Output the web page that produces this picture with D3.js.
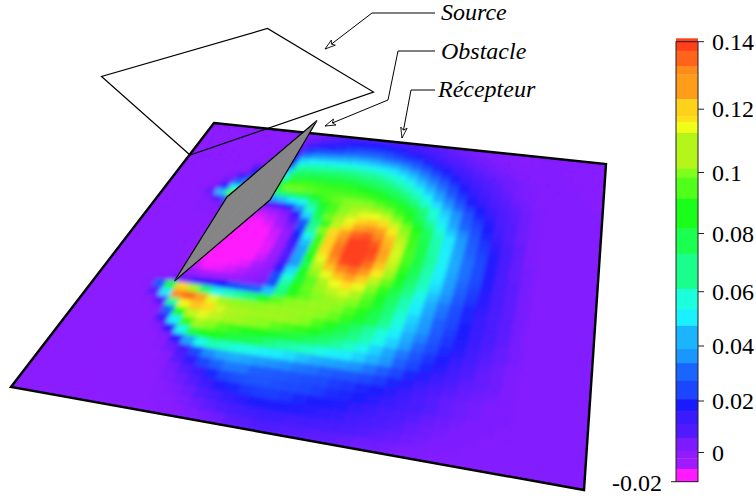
<!DOCTYPE html>
<html>
<head>
<meta charset="utf-8">
<script src="https://d3js.org/d3.v7.min.js"></script>
<style>
body { margin: 0; background: #fff; }
svg { display: block; }
text { font-family: "Liberation Serif", serif; fill: #000; }
</style>
</head>
<body>
<div id="chartContainer"></div>
<script>
var WIDTH = 756;
var HEIGHT = 499;

// colour bar: tick values and their labels
var tickValues = [0.14, 0.12, 0.1, 0.08, 0.06, 0.04, 0.02, 0, -0.02];
var tickLabels = ["0.14", "0.12", "0.1", "0.08", "0.06", "0.04", "0.02", "0", "-0.02"];

// colour bands of the bar, top to bottom
var bandEdges = [0.141, 0.1373, 0.1328, 0.1304, 0.123, 0.1178, 0.116, 0.1125, 0.1012, 0.0983, 0.0914, 0.0816,
  0.073, 0.0609, 0.0536, 0.0474, 0.0389, 0.0338, 0.0273, 0.0207, 0.0161, 0.0111, 0.0057, 0.0007, -0.004, -0.0112, -0.02];
var bandColors = ["#ff401a", "#ff641a", "#ff8c1a", "#ff9c1a", "#ffd21a", "#ffe01a", "#f0ff1a", "#b4f51a", "#80ff1a",
  "#50ff1a", "#1aff1a", "#1aff50", "#1aff8c", "#1affdc", "#1af0ff", "#1ab4ff", "#1a96ff", "#1a64ff", "#1a46ff",
  "#1a1aff", "#3c1aff", "#501aff", "#7e1aff", "#921aff", "#a01aff", "#ff1aff"];

// field on the receiving plane, in thousandths (row = far edge to near edge)
var fieldRows = [
[0,0,0,0,0,0,0,0,0,1, 3,4,6,8,10,12,13,14,14,13, 12,11,10,8,7,6,5,4,3,2, 2,1,1,1,2,2,1,1,1,1],
[0,0,0,0,0,0,0,0,0,1, 4,6,9,12,15,17,19,19,19,18, 16,14,13,11,9,7,6,5,4,3, 2,2,1,1,2,2,2,1,1,1],
[0,0,0,0,0,0,0,0,0,1, 5,12,16,19,21,23,25,25,25,24, 22,20,17,15,12,9,8,6,5,4, 3,2,2,2,2,2,1,1,1,1],
[0,0,0,0,0,0,0,0,1,3, 8,22,26,28,30,32,33,33,33,31, 29,26,24,20,16,13,10,8,6,5, 4,3,2,2,2,2,2,1,1,1],
[0,0,0,0,0,0,0,0,1,4, 12,33,37,40,42,44,45,45,44,42, 39,35,31,26,21,17,13,10,8,6, 5,4,3,2,2,2,2,1,1,1],
[0,0,0,0,0,0,0,0,1,5, 20,48,52,53,54,55,56,55,54,52, 49,45,39,33,27,22,17,13,10,8, 6,5,4,3,2,2,2,2,1,1],
[0,0,0,0,0,0,0,1,3,8, 30,60,63,64,65,66,66,65,64,62, 58,54,47,40,33,27,21,16,12,9, 7,5,4,3,2,2,2,2,1,1],
[0,0,0,0,0,0,0,8,4,10, 45,70,73,74,75,75,74,73,71,69, 65,60,55,47,39,32,25,19,14,11, 8,6,4,3,2,2,2,2,2,1],
[0,0,0,0,0,0,1,18,5,12, 55,78,81,82,82,82,82,81,79,76, 73,68,62,55,46,37,29,22,16,13, 9,7,5,4,2,2,2,2,2,1],
[0,0,0,0,0,2,12,25,6,14, 72,90,92,92,91,90,90,89,87,85, 81,76,70,62,53,43,34,26,19,15, 11,8,6,4,3,2,2,2,2,2],
[0,0,0,0,1,5,30,40,8,18, 85,98,98,96,94,94,94,94,93,91, 88,83,78,69,59,49,39,31,23,18, 13,9,7,5,3,2,2,2,2,2],
[0,0,0,0,2,15,55,60,60,60, 70,75,78,78,85,93,97,100,100,99, 96,92,88,80,70,58,46,36,27,20, 15,10,7,5,3,2,2,2,2,2],
[0,0,0,1,6,45,95,80,60,40, 40,45,50,55,70,85,94,100,104,106, 104,100,92,85,74,59,49,38,29,23, 17,11,8,5,3,2,2,2,2,2],
[0,0,0,0,2,8,30,10,8,5, 8,10,20,38,60,80,94,102,108,113, 114,110,100,90,79,66,52,41,31,25, 18,12,8,5,3,2,2,2,2,2],
[0,0,0,0,1,2,5,0,-5,-8, -8,-5,3,15,48,78,98,107,113,120, 122,118,110,99,86,73,58,46,35,27, 20,13,8,5,3,2,2,2,2,2],
[0,0,0,0,1,1,1,0,-9,-13, -13,-10,-5,8,30,68,90,108,117,126, 130,126,116,103,90,76,62,50,38,29, 22,15,9,6,3,2,2,2,2,2],
[0,0,0,0,0,0,0,-3,-12,-15, -16,-13,-8,3,25,65,100,118,126,135, 137,132,122,108,92,78,63,50,39,30, 23,16,10,6,3,2,2,2,2,2],
[0,0,0,0,0,0,0,-7,-15,-17, -18,-16,-11,-3,20,55,93,120,130,139, 142,136,124,110,93,79,64,51,40,31, 24,17,10,6,3,2,2,2,2,2],
[0,0,0,0,0,0,-1,-11,-18,-19, -19,-17,-12,-4,14,45,92,120,133,142, 145,138,126,111,94,79,65,52,41,32, 25,17,10,6,4,2,2,2,2,2],
[0,0,0,0,0,0,-1,-14,-19,-20, -19,-17,-13,-5,10,40,90,118,133,142, 145,137,125,110,93,79,65,52,41,32, 25,17,10,6,4,2,2,2,2,2],
[0,0,0,0,0,0,-2,-15,-19,-20, -19,-17,-13,-4,8,40,85,113,128,138, 141,134,122,108,90,77,63,51,40,32, 25,17,10,7,4,2,2,2,2,2],
[0,0,0,0,0,0,-2,-16,-19,-19, -18,-16,-11,-3,10,38,78,108,122,132, 134,128,116,104,87,74,62,50,39,31, 24,17,10,7,4,2,2,2,2,2],
[0,0,0,0,0,0,-2,-15,-18,-18, -15,-13,-8,-2,15,48,85,102,113,122, 126,121,108,97,83,71,60,48,38,30, 23,16,10,7,4,2,2,2,2,2],
[0,0,0,0,0,0,-1,-11,-15,-14, -12,-9,-5,0,25,58,82,96,106,114, 117,113,101,90,79,67,56,45,36,28, 22,16,10,7,4,2,2,2,2,2],
[0,0,0,0,0,0,0,-4,-8,-8, -6,-4,-1,3,25,65,88,97,103,108, 111,106,96,85,74,63,52,42,33,26, 20,15,10,7,4,2,2,2,2,2],
[0,0,0,0,0,1,3,5,10,14, 18,25,28,30,45,70,88,96,100,103, 104,100,93,83,72,61,50,40,32,25, 20,14,10,7,4,2,2,2,2,2],
[0,0,0,0,1,28,80,120,105,72, 55,60,65,72,84,96,100,102,103,103, 100,95,88,79,69,58,47,38,30,24, 19,14,10,7,4,2,2,2,2,2],
[0,0,0,0,0,7,50,130,134,126, 112,104,102,102,102,103,103,103,103,101, 97,90,83,76,66,55,45,37,29,23, 18,14,10,7,4,2,2,2,2,2],
[0,0,0,0,0,1,8,65,115,122, 118,110,106,105,104,104,104,103,100,94, 88,80,73,65,58,50,42,34,27,22, 17,13,9,6,4,2,2,2,2,2],
[0,0,0,0,0,0,1,30,85,108, 112,108,105,104,102,100,96,93,90,85, 79,74,68,62,55,47,39,31,25,20, 16,12,8,6,4,2,2,2,2,2],
[0,0,0,0,0,0,0,12,52,90, 104,100,95,91,88,86,83,80,78,74, 70,65,60,54,47,40,33,27,22,18, 14,10,7,5,3,2,2,2,2,2],
[0,0,0,0,0,0,0,2,15,55, 80,85,85,80,78,75,70,65,63,60, 56,52,50,47,43,37,30,24,20,16, 12,9,6,5,3,2,2,2,2,2],
[0,0,0,0,0,0,0,0,2,15, 40,55,62,60,57,55,52,50,48,45, 42,40,38,36,33,29,24,20,16,13, 10,7,6,5,3,2,2,2,2,2],
[0,0,0,0,0,0,0,0,1,5, 12,25,35,40,42,40,38,36,35,33, 32,30,28,27,25,23,20,16,13,10, 8,6,5,4,3,2,2,2,2,2],
[0,0,0,0,0,0,0,0,0,1, 8,15,24,30,33,33,30,29,28,27, 26,25,23,22,20,18,16,13,10,8, 6,5,4,3,3,2,2,2,2,2],
[0,0,0,0,0,0,0,0,0,1, 4,8,13,20,24,26,27,27,26,25, 24,23,21,20,18,16,14,12,10,8, 6,5,4,3,3,2,2,2,2,2],
[0,0,0,0,0,0,0,0,0,0, 3,5,8,13,17,20,22,23,23,22, 20,19,18,17,15,13,11,9,8,6, 5,4,3,3,2,2,2,2,2,2],
[0,0,0,0,0,0,0,0,0,0, 1,3,5,8,11,14,16,18,19,18, 17,16,15,14,12,10,9,8,6,5, 4,3,3,2,2,2,2,2,2,2],
[0,0,0,0,0,0,0,0,0,0, 1,1,3,5,7,9,11,12,13,13, 12,12,11,10,9,8,7,6,5,4, 3,3,2,2,2,2,2,2,2,2],
[0,0,0,0,0,0,0,0,0,0, 0,1,1,3,4,5,7,8,9,9, 8,8,7,7,6,5,5,4,3,3, 2,2,2,2,2,2,2,2,2,2]
];

var svg = d3.select("#chartContainer").append("svg")
  .attr("width", WIDTH)
  .attr("height", HEIGHT);

// plate corners on screen: far left, far right, near right, near left
var plate = [[214, 123], [606, 164], [584, 490], [11, 387]];

// perspective mapping of the unit square onto the plate
function makeProjection(q) {
  var sx = q[0][0] - q[1][0] + q[2][0] - q[3][0];
  var sy = q[0][1] - q[1][1] + q[2][1] - q[3][1];
  var dx1 = q[1][0] - q[2][0], dx2 = q[3][0] - q[2][0];
  var dy1 = q[1][1] - q[2][1], dy2 = q[3][1] - q[2][1];
  var den = dx1 * dy2 - dx2 * dy1;
  var g = (sx * dy2 - dx2 * sy) / den;
  var h = (dx1 * sy - sx * dy1) / den;
  var a = q[1][0] - q[0][0] + g * q[1][0];
  var b = q[3][0] - q[0][0] + h * q[3][0];
  var d = q[1][1] - q[0][1] + g * q[1][1];
  var e = q[3][1] - q[0][1] + h * q[3][1];
  return function (u, v) {
    var w = g * u + h * v + 1;
    return [(a * u + b * v + q[0][0]) / w, (d * u + e * v + q[0][1]) / w];
  };
}
var project = makeProjection(plate);

var nRows = fieldRows.length;
var nCols = fieldRows[0].length;
var uScale = d3.scaleLinear().domain([0, nCols]).range([0, 1]);
var vScale = d3.scaleLinear().domain([0, nRows]).range([0, 1]);

// colour of a cell: between the centre values of the bar's bands
var bandMids = bandColors.map(function (c, i) { return (bandEdges[i] + bandEdges[i + 1]) / 2; });
var heatColor = d3.scaleLinear().domain(bandMids).range(bandColors).clamp(true);

var cells = [];
fieldRows.forEach(function (row, r) {
  row.forEach(function (val, c) { cells.push({r: r, c: c, value: val / 1000}); });
});

var line = d3.line();

var defs = svg.append("defs");
defs.append("clipPath").attr("id", "plateClip")
  .append("path").attr("d", line(plate) + "Z");
// softens the cells, the original mesh is finer than this grid
defs.append("filter").attr("id", "soften")
  .attr("x", "-5%").attr("y", "-5%").attr("width", "110%").attr("height", "110%")
  .append("feGaussianBlur").attr("stdDeviation", 2.2);

var plateG = svg.append("g").attr("clip-path", "url(#plateClip)");
plateG.append("path")
  .attr("d", line(plate) + "Z")
  .attr("fill", heatColor(0));

plateG.append("g").attr("filter", "url(#soften)").selectAll("path")
  .data(cells)
  .enter().append("path")
  .attr("d", function (d) {
    return line([
      project(uScale(d.c), vScale(d.r)),
      project(uScale(d.c + 1), vScale(d.r)),
      project(uScale(d.c + 1), vScale(d.r + 1)),
      project(uScale(d.c), vScale(d.r + 1))
    ]) + "Z";
  })
  .attr("fill", function (d) { return heatColor(d.value); })
  .attr("stroke", function (d) { return heatColor(d.value); })
  .attr("stroke-width", 0.6);

// plate outline
svg.append("path")
  .attr("d", line(plate) + "Z")
  .attr("fill", "none")
  .attr("stroke", "#000")
  .attr("stroke-width", 2.4)
  .attr("stroke-linejoin", "miter");

// source panel and obstacle
svg.append("path")
  .attr("d", line([[190, 155], [101.5, 76.5], [267.5, 28.5], [373.5, 92]]) + "Z")
  .attr("fill", "none")
  .attr("stroke", "#000")
  .attr("stroke-width", 1.2);

svg.append("path")
  .attr("d", line([[317, 120.5], [227, 197], [174.5, 281], [270, 200]]) + "Z")
  .attr("fill", "#858585")
  .attr("stroke", "#000")
  .attr("stroke-width", 1.2);
svg.append("path")
  .attr("d", line([[317, 120.5], [174.5, 281]]))
  .attr("stroke", "#8d8da8")
  .attr("stroke-width", 0.5);

// leader lines with their arrow heads and labels
var leaders = [
  {label: "Source", lx: 441, ly: 20, pts: [[435, 13], [372, 13], [325, 49]]},
  {label: "Obstacle", lx: 441, ly: 58.5, pts: [[435, 51], [398, 51], [388, 100], [325, 126]]},
  {label: "R\u00e9cepteur", lx: 438, ly: 97, pts: [[435, 90], [411, 90], [402, 138]]}
];

leaders.forEach(function (l) {
  svg.append("path")
    .attr("d", line(l.pts))
    .attr("fill", "none")
    .attr("stroke", "#000")
    .attr("stroke-width", 1);
  var tip = l.pts[l.pts.length - 1], prev = l.pts[l.pts.length - 2];
  var ang = Math.atan2(prev[1] - tip[1], prev[0] - tip[0]);
  var barb = function (da, len) {
    return [tip[0] + len * Math.cos(ang + da), tip[1] + len * Math.sin(ang + da)];
  };
  svg.append("path")
    .attr("d", line([barb(0.3, 11), tip, barb(-0.3, 11), barb(0, 8)]) + "Z")
    .attr("fill", "#fff")
    .attr("stroke", "#000")
    .attr("stroke-width", 0.9);
  svg.append("text")
    .attr("x", l.lx)
    .attr("y", l.ly)
    .style("font-size", "24px")
    .style("font-style", "italic")
    .text(l.label);
});

// colour bar, the spacing of its ticks is not even
var barY = d3.scaleLinear()
  .domain(tickValues)
  .range([41.7, 109.2, 172.5, 233.5, 291.7, 346, 401, 452.5, 481.7]);

var barG = svg.append("g").attr("transform", "translate(676,0)");
barG.selectAll("rect.band")
  .data(bandColors)
  .enter().append("rect")
  .attr("class", "band")
  .attr("x", 0)
  .attr("width", 22)
  .attr("y", function (d, i) { return barY(bandEdges[i]); })
  .attr("height", function (d, i) { return barY(bandEdges[i + 1]) - barY(bandEdges[i]) + 0.3; })
  .attr("fill", function (d) { return d; });

barG.append("rect")
  .attr("x", 0)
  .attr("width", 22)
  .attr("y", barY(0.14))
  .attr("height", barY(-0.02) - barY(0.14))
  .attr("fill", "none")
  .attr("stroke", "#222")
  .attr("stroke-width", 1);

var ticks = barG.selectAll("g.tick")
  .data(tickValues)
  .enter().append("g")
  .attr("class", "tick")
  .attr("transform", function (d) { return "translate(0," + barY(d) + ")"; });

ticks.append("line")
  .attr("x1", function (d) { return d === -0.02 ? -5 : 22; })
  .attr("x2", function (d) { return d === -0.02 ? 0 : 28; })
  .attr("stroke", "#222")
  .attr("stroke-width", 1);

ticks.append("text")
  .attr("x", function (d) { return d === -0.02 ? -14 : 36; })
  .attr("y", function (d) { return d === -0.02 ? 9 : 8; })
  .attr("text-anchor", function (d) { return d === -0.02 ? "end" : "start"; })
  .style("font-size", "24px")
  .text(function (d, i) { return tickLabels[i]; });
</script>
</body>
</html>
